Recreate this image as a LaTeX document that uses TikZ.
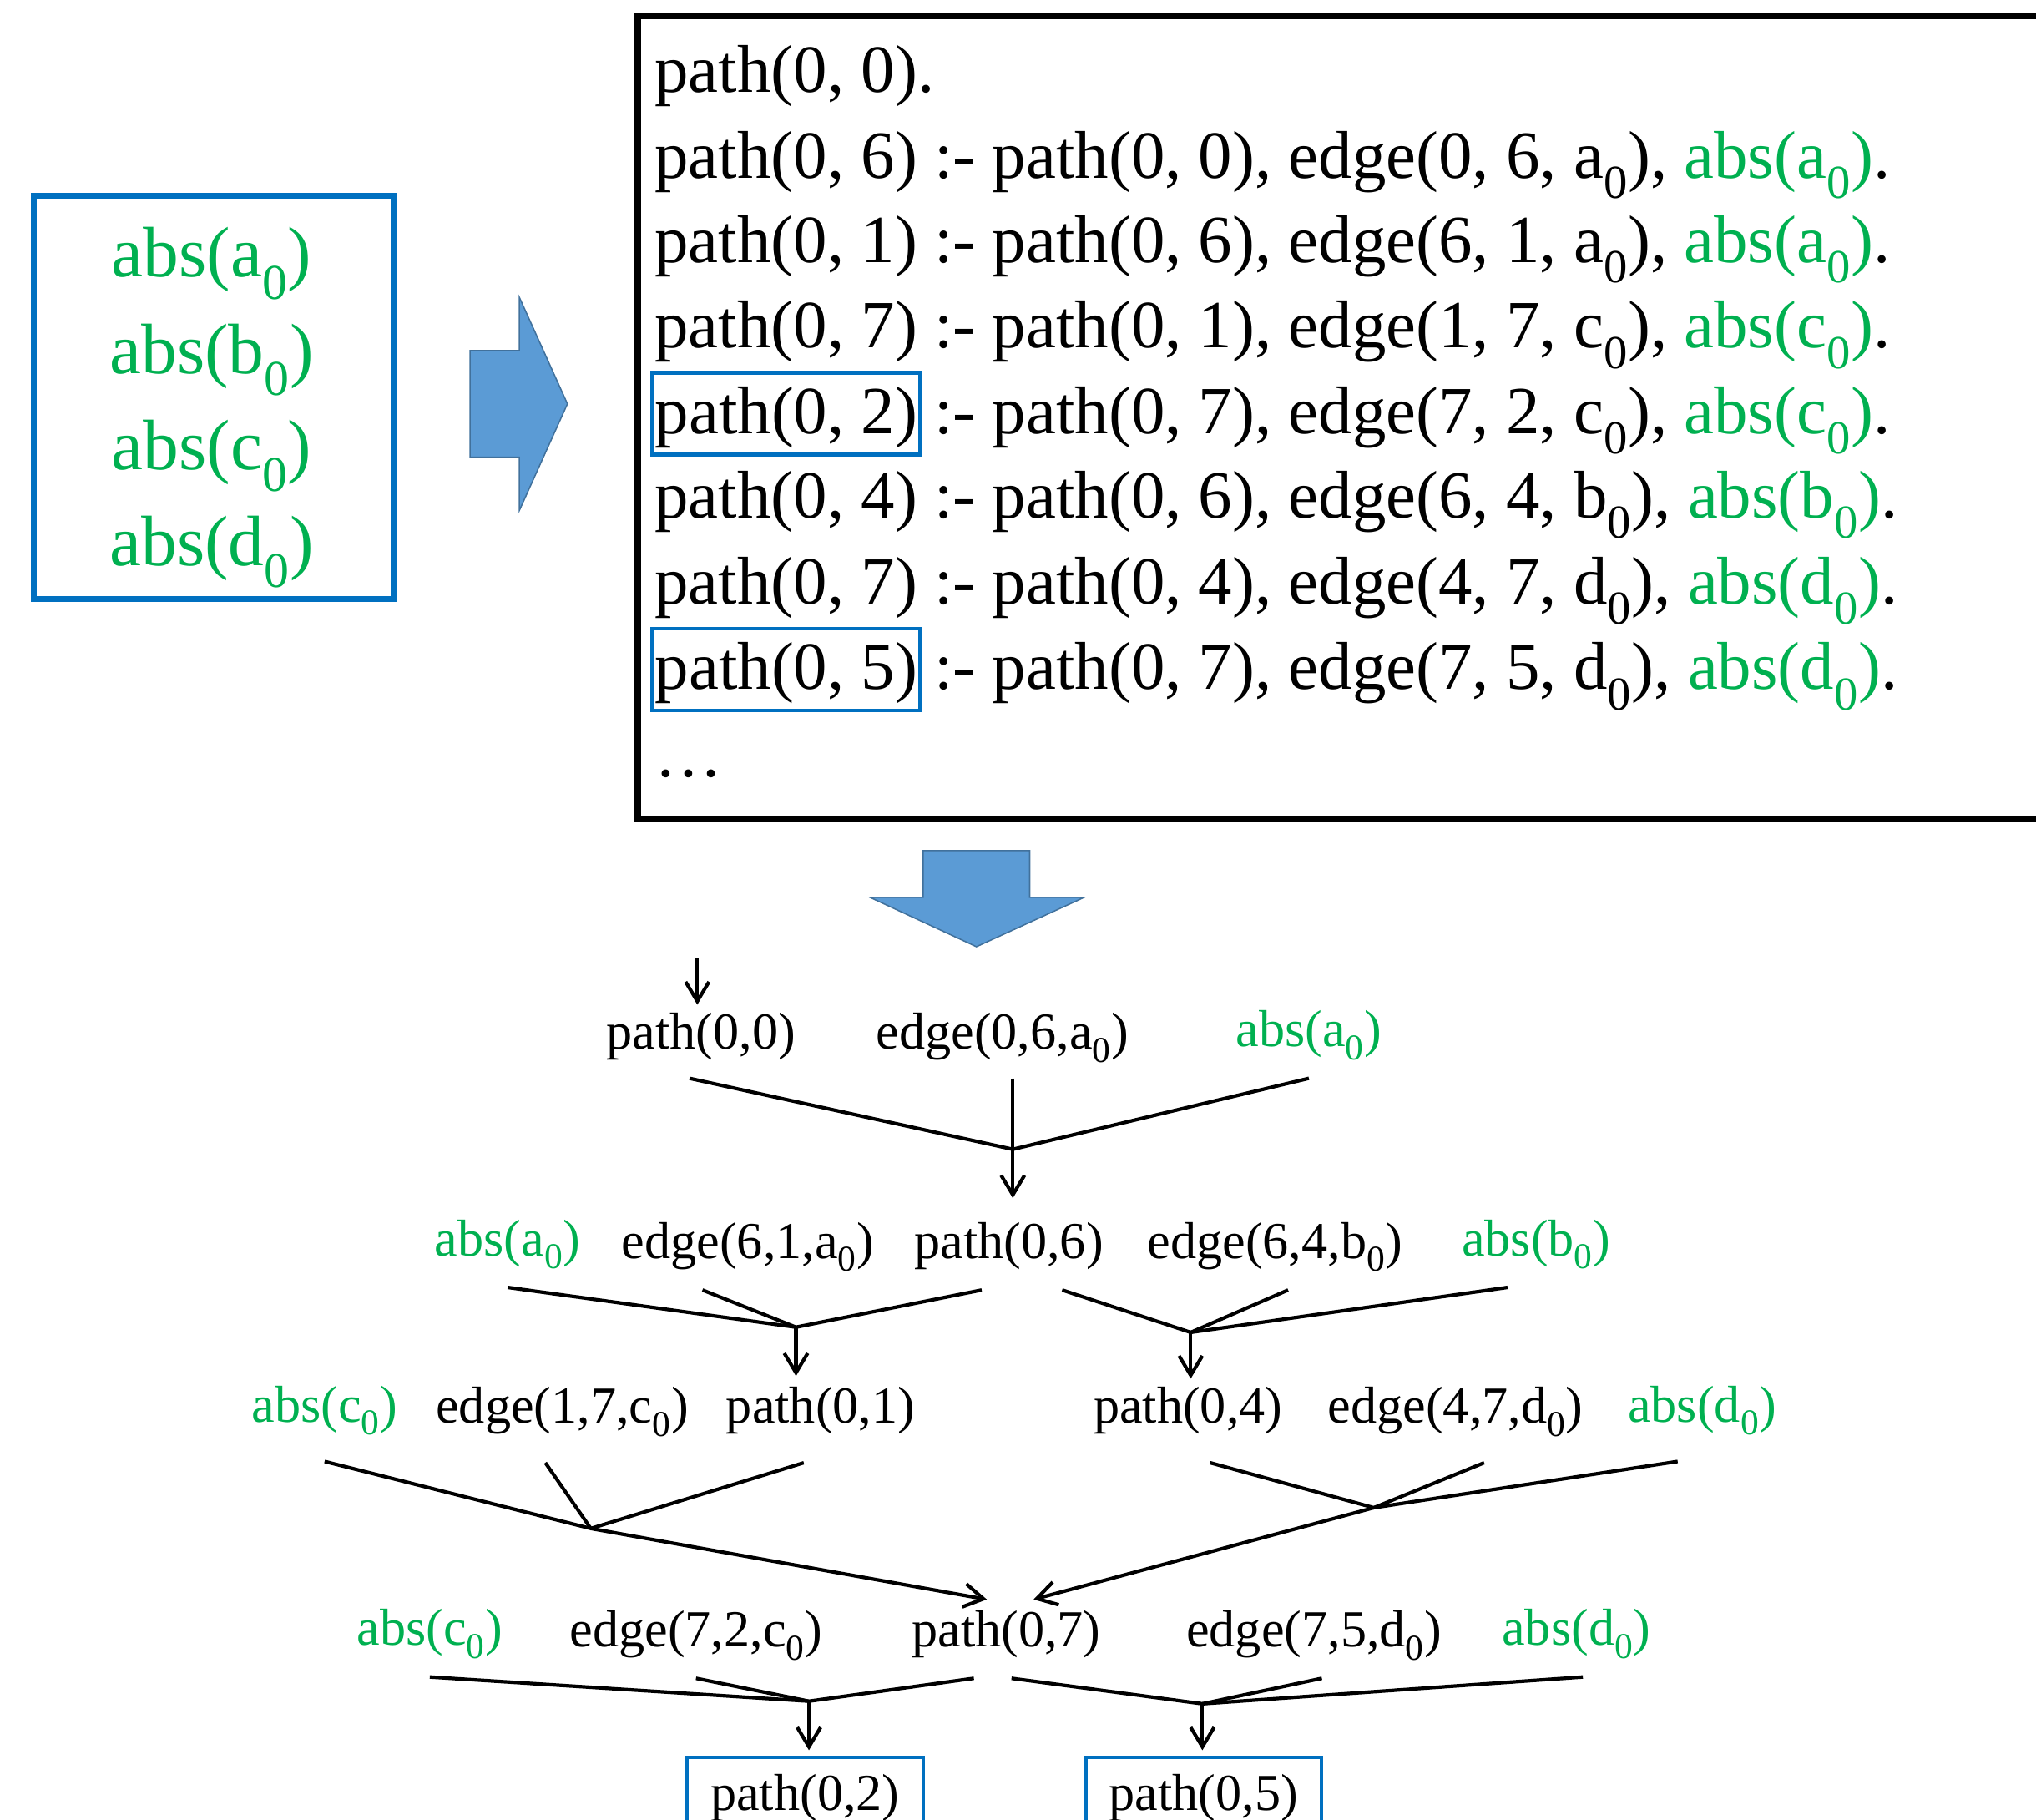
\documentclass[tikz,border=0pt]{standalone}
\usepackage{fontspec}
\setmainfont{Liberation Serif}
\usetikzlibrary{arrows.meta,positioning}

\definecolor{absgreen}{HTML}{00B050}
\definecolor{boxblue}{HTML}{0070C0}
\definecolor{arrfill}{HTML}{5B9BD5}
\definecolor{arredge}{HTML}{41719C}

\newcommand{\zr}{\textsubscript{0}}
\newcommand{\absof}[1]{\textcolor{absgreen}{abs(#1\zr)}}

\tikzset{
  rule/.style={anchor=base west, inner sep=0pt, font=\fontsize{52}{66}\selectfont},
  head/.style={rule, draw=boxblue, line width=3pt, inner xsep=2pt, inner ysep=8pt, text height=39pt, text depth=8pt},
  fact/.style={font=\fontsize{40}{48}\selectfont, text height=27pt, text depth=9pt, inner xsep=0pt, inner ysep=14pt},
  gfact/.style={fact, text=absgreen},
  goal/.style={fact, draw=boxblue, line width=2.5pt, inner xsep=18pt},
  blockarrow/.style={fill=arrfill, draw=arredge, line width=1pt}
}

\begin{document}
\begin{tikzpicture}[x=1pt,y=-1pt,line width=2.7pt,>={Straight Barb[length=15pt,width=18pt]}]
  \useasboundingbox (0,0) rectangle (1568,1401);

  \node[draw=boxblue, line width=4.5pt, minimum width=277pt, minimum height=310pt] (absbox) at (164.5,306) {};
  \node[align=center, font=\fontsize{55}{74}\selectfont, text=absgreen] (abslist) at (163,314)
        {abs(a\zr)\\abs(b\zr)\\abs(c\zr)\\abs(d\zr)};

  \filldraw[blockarrow] (362,270) -- (400,270) -- (400,229) -- (437,311) -- (400,393) -- (400,352) -- (362,352) -- cycle;

  \draw[line width=5pt] (1600,12) -- (491,12) -- (491,631) -- (1600,631);

  \node[rule] (r1) at (503,71) {path(0, 0).};
  \node[rule] (r2) at (503,137) {path(0, 6) :- path(0, 0), edge(0, 6, a\zr), \absof{a}.};
  \node[rule] (r3) at (503,202) {path(0, 1) :- path(0, 6), edge(6, 1, a\zr), \absof{a}.};
  \node[rule] (r4) at (503,268) {path(0, 7) :- path(0, 1), edge(1, 7, c\zr), \absof{c}.};
  \node[head] (h5) at (501,334) {path(0, 2)};
  \node[rule] (r5) at ([xshift=-5pt]h5.base east) {\ :- path(0, 7), edge(7, 2, c\zr), \absof{c}.};
  \node[rule] (r6) at (503,399) {path(0, 4) :- path(0, 6), edge(6, 4, b\zr), \absof{b}.};
  \node[rule] (r7) at (503,465) {path(0, 7) :- path(0, 4), edge(4, 7, d\zr), \absof{d}.};
  \node[head] (h8) at (501,531) {path(0, 5)};
  \node[rule] (r8) at ([xshift=-5pt]h8.base east) {\ :- path(0, 7), edge(7, 5, d\zr), \absof{d}.};
  \node[rule] (r9) at (503,598) {\ldots};

  \filldraw[blockarrow] (711,655) -- (793,655) -- (793,691) -- (835,691) -- (752,729) -- (670,691) -- (711,691) -- cycle;

  \node[fact]  (p00) at (540,799) {path(0,0)};
  \node[fact]  (e06) at (772,799) {edge(0,6,a\zr)};
  \node[gfact] (ab1) at (1008,797) {abs(a\zr)};

  \node[gfact] (ab2a) at (391,958) {abs(a\zr)};
  \node[fact]  (e61) at (576,960) {edge(6,1,a\zr)};
  \node[fact]  (p06) at (777,960) {path(0,6)};
  \node[fact]  (e64) at (982,960) {edge(6,4,b\zr)};
  \node[gfact] (ab2b) at (1183,958) {abs(b\zr)};

  \node[gfact] (ac3) at (250,1086) {abs(c\zr)};
  \node[fact]  (e17) at (433,1087) {edge(1,7,c\zr)};
  \node[fact]  (p01) at (632,1087) {path(0,1)};
  \node[fact]  (p04) at (915,1087) {path(0,4)};
  \node[fact]  (e47) at (1121,1087) {edge(4,7,d\zr)};
  \node[gfact] (ad3) at (1311,1086) {abs(d\zr)};

  \node[gfact] (ac4) at (331,1258) {abs(c\zr)};
  \node[fact]  (e72) at (536,1259) {edge(7,2,c\zr)};
  \node[fact]  (p07) at (775,1259) {path(0,7)};
  \node[fact]  (e75) at (1012,1259) {edge(7,5,d\zr)};
  \node[gfact] (ad4) at (1214,1258) {abs(d\zr)};

  \node[goal] (p02) at (620,1385) {path(0,2)};
  \node[goal] (p05) at (927,1385) {path(0,5)};

  \coordinate (start) at (537,738);
  \coordinate (j1) at (780,885);
  \coordinate (jL2) at (613,1022);
  \coordinate (jR2) at (917,1026);
  \coordinate (jL3) at (455,1177);
  \coordinate (jR3) at (1058,1161);
  \coordinate (jL4) at (623,1310);
  \coordinate (jR4) at (926,1312);

  \draw[->] (start) -- ([xshift=-3pt,yshift=-8pt]p00.north);

  \draw ([xshift=-9pt,yshift=2pt]p00.south) -- (j1) -- (ab1.south);
  \draw[->] ([xshift=8pt,yshift=2pt]e06.south) -- (j1) -- ([yshift=4pt]j1 |- p06.north);

  \draw (ab2a.south) -- (jL2) -- ([xshift=-21pt]p06.south);
  \draw ([xshift=-35pt]e61.south) -- (jL2);
  \draw[->] (jL2) -- ([yshift=-6pt]jL2 |- p01.north);
  \draw ([xshift=41pt]p06.south) -- (jR2) -- ([xshift=-22pt]ab2b.south);
  \draw ([xshift=10pt]e64.south) -- (jR2);
  \draw[->] (jR2) -- ([yshift=-8pt]jR2 |- p04.north);

  \draw ([yshift=-6pt]ac3.south) -- (jL3) -- ([xshift=-13pt,yshift=-6pt]p01.south);
  \draw ([xshift=-13pt,yshift=-6pt]e17.south) -- (jL3);
  \draw ([xshift=17pt,yshift=-6pt]p04.south) -- (jR3) -- ([xshift=-19pt,yshift=-6pt]ad3.south);
  \draw ([xshift=22pt,yshift=-6pt]e47.south) -- (jR3);
  \draw[->] (jL3) -- ([xshift=-15pt,yshift=-6pt]p07.north);
  \draw[->] (jR3) -- ([xshift=21pt,yshift=-6pt]p07.north);

  \draw (ac4.south) -- (jL4) -- ([xshift=-25pt]p07.south);
  \draw (e72.south) -- (jL4);
  \draw[->] (jL4) -- ([yshift=4pt]jL4 |- p02.north);
  \draw ([xshift=4pt]p07.south) -- (jR4) -- ([xshift=5pt]ad4.south);
  \draw ([xshift=6pt]e75.south) -- (jR4);
  \draw[->] (jR4) -- ([yshift=4pt]jR4 |- p05.north);
\end{tikzpicture}
\end{document}
